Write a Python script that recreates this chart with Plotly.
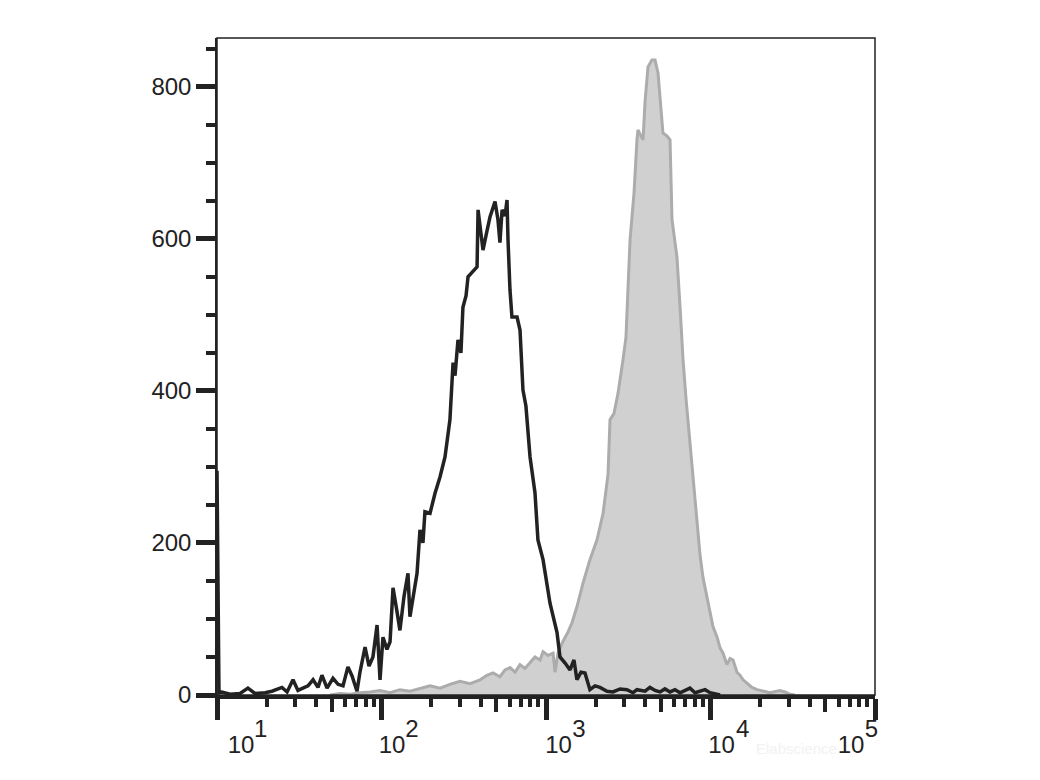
import numpy as np
import plotly.graph_objects as go

# Black (control) histogram: log10 intensity, counts
black_log = [1.000, 1.012, 1.030, 1.079, 1.140, 1.188, 1.231, 1.292, 1.334, 1.365, 1.395, 1.426,
             1.462, 1.492, 1.523, 1.553, 1.584, 1.614, 1.638, 1.669, 1.705, 1.736, 1.766, 1.796,
             1.821, 1.851, 1.869, 1.900, 1.924, 1.948, 1.973, 1.991, 2.009, 2.033, 2.052, 2.070,
             2.094, 2.112, 2.137, 2.161, 2.173, 2.198, 2.216, 2.234, 2.252, 2.264, 2.295, 2.325,
             2.356, 2.386, 2.416, 2.435, 2.447, 2.465, 2.483, 2.495, 2.514, 2.526, 2.550, 2.581,
             2.587, 2.605, 2.617, 2.641, 2.660, 2.690, 2.708, 2.720, 2.733, 2.751, 2.763, 2.769,
             2.781, 2.793, 2.824, 2.842, 2.860, 2.878, 2.903, 2.933, 2.951, 2.982, 3.024, 3.067,
             3.085, 3.116, 3.146, 3.170, 3.188, 3.213, 3.237, 3.267, 3.298, 3.328, 3.371, 3.407,
             3.450, 3.492, 3.529, 3.553, 3.602, 3.632, 3.663, 3.693, 3.723, 3.754, 3.784, 3.815,
             3.845, 3.875, 3.906, 3.936, 3.967, 3.997, 4.027, 4.058]
black_cnt = [295, 3, 4, 1, 2, 9, 2, 3, 5, 7, 10, 4,
             20, 6, 9, 12, 20, 10, 26, 9, 22, 14, 12, 37,
             25, 5, 30, 63, 38, 50, 92, 20, 76, 60, 70, 141,
             110, 85, 130, 160, 103, 140, 160, 217, 200, 241, 239, 265,
             287, 313, 362, 437, 420, 467, 450, 510, 525, 550, 555, 563,
             638, 610, 585, 610, 629, 649, 625, 595, 638, 630, 651, 599,
             533, 497, 497, 480, 401, 380, 313, 266, 204, 178, 121, 82,
             50, 42, 33, 46, 20, 30, 29, 7, 12, 10, 5, 4,
             8, 7, 3, 7, 5, 10, 6, 4, 8, 4, 7, 3,
             6, 9, 3, 5, 7, 3, 2, 0]

# Gray (stained) histogram
gray_log = [1.687, 1.748, 1.809, 1.869, 1.930, 1.991, 2.052, 2.112, 2.173, 2.234, 2.295, 2.356,
            2.416, 2.477, 2.538, 2.599, 2.641, 2.678, 2.720, 2.751, 2.781, 2.812, 2.842, 2.872,
            2.903, 2.933, 2.964, 2.982, 3.012, 3.043, 3.055, 3.073, 3.097, 3.134, 3.158, 3.188,
            3.225, 3.267, 3.310, 3.347, 3.377, 3.389, 3.413, 3.438, 3.468, 3.486, 3.511, 3.535,
            3.553, 3.559, 3.578, 3.590, 3.602, 3.620, 3.644, 3.663, 3.681, 3.699, 3.711, 3.736,
            3.754, 3.766, 3.796, 3.815, 3.833, 3.851, 3.875, 3.900, 3.918, 3.936, 3.954, 3.979,
            3.997, 4.015, 4.040, 4.058, 4.076, 4.100, 4.119, 4.137, 4.161, 4.179, 4.198, 4.228,
            4.252, 4.283, 4.319, 4.362, 4.422, 4.453, 4.483, 4.514]
gray_cnt = [0, 2, 1, 3, 4, 6, 3, 7, 5, 8, 12, 9,
            14, 18, 15, 20, 26, 29, 24, 33, 36, 30, 40, 35,
            43, 50, 46, 57, 52, 55, 30, 55, 68, 83, 95, 116,
            147, 178, 204, 239, 290, 362, 370, 397, 441, 470, 599, 660,
            730, 743, 735, 730, 780, 826, 835, 835, 818, 770, 739, 735,
            730, 625, 576, 510, 441, 390, 331, 270, 221, 185, 155, 130,
            112, 90, 76, 62, 55, 40, 48, 46, 30, 26, 20, 14,
            10, 7, 5, 3, 6, 4, 1, 0]

y_major = [0, 200, 400, 600, 800]
x_major_exp = [1, 2, 3, 4, 5]
# decade-label layout: base "10" and its exponent, as drawn in the original
base_pos = [1.146, 2.064, 3.076, 4.067, 4.854]
exp_pos = [1.265, 2.185, 3.20, 4.195, 4.978]
base_text = ["10"] * len(x_major_exp)
exp_text = [str(e) for e in x_major_exp]

INK = "#222222"

fig = go.Figure()
fig.add_trace(go.Scatter(x=np.power(10.0, gray_log), y=gray_cnt, mode="lines",
                         line=dict(color="#acacac", width=3), fill="tozeroy",
                         fillcolor="#d0d0d0", showlegend=False, hoverinfo="skip"))
fig.add_trace(go.Scatter(x=np.power(10.0, black_log), y=black_cnt, mode="lines",
                         line=dict(color=INK, width=3.5), showlegend=False, hoverinfo="skip"))

minor_vals = [m * 10.0 ** e for e in range(1, 5) for m in (2, 3, 4, 6, 7, 8, 9)]
five_vals = [5 * 10.0 ** e for e in range(1, 5)]
major_vals = [10.0 ** e for e in x_major_exp]

for name in ("x2", "x3", "x4", "x5"):
    fig.add_trace(go.Scatter(x=[], y=[], xaxis=name, yaxis="y", showlegend=False))

common_x = dict(type="log", range=[1, 5], showgrid=False, zeroline=False, automargin=False)
over = dict(overlaying="x", anchor="y", side="bottom", showline=False)
fig.update_layout(
    width=1024, height=764,
    paper_bgcolor="white", plot_bgcolor="white",
    margin=dict(l=209, r=157, t=30, b=77, autoexpand=False),
    font=dict(family="Liberation Sans, Arial", color=INK),
    xaxis=dict(**common_x, showline=True, linewidth=4, linecolor=INK,
               tickvals=major_vals, ticks="outside", ticklen=21, tickwidth=5,
               tickcolor=INK, showticklabels=False),
    xaxis2=dict(**common_x, **over, tickvals=minor_vals, ticks="outside", ticklen=11,
                tickwidth=3.5, tickcolor=INK, showticklabels=False),
    xaxis3=dict(**common_x, **over, tickvals=five_vals, ticks="outside", ticklen=16,
                tickwidth=4, tickcolor=INK, showticklabels=False),
    xaxis4=dict(**common_x, **over, tickvals=[10.0 ** p for p in base_pos], ticktext=base_text,
                ticks="outside", ticklen=28, tickcolor="rgba(0,0,0,0)",
                tickfont=dict(size=24, color=INK)),
    xaxis5=dict(**common_x, **over, tickvals=[10.0 ** p for p in exp_pos], ticktext=exp_text,
                ticks="outside", ticklen=12, tickcolor="rgba(0,0,0,0)",
                tickfont=dict(size=24, color=INK)),
    yaxis=dict(range=[0, 864], showgrid=False, zeroline=False, showline=True, automargin=False,
               linewidth=1.5, linecolor=INK, tickvals=y_major, ticks="outside",
               ticklen=19, tickwidth=5, tickcolor=INK, tickfont=dict(size=24, color=INK),
               minor=dict(dtick=50, ticks="outside", ticklen=9, tickwidth=3.5, tickcolor=INK)),
    shapes=[dict(type="rect", xref="paper", yref="paper", x0=0, x1=1, y0=0, y1=1,
                 line=dict(color=INK, width=1.5), layer="above")],
    annotations=[dict(text="Elabscience", xref="paper", yref="paper", x=0.88, y=-0.081,
                      xanchor="center", yanchor="middle", showarrow=False,
                      font=dict(size=15, color="#f2f2f2"))],
)

fig.write_html("out.html")
